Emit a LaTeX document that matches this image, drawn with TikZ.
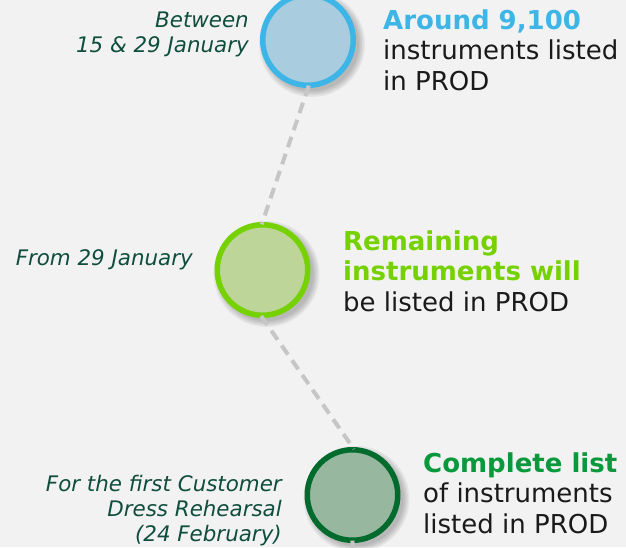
\documentclass[tikz,border=0pt]{standalone}
\usepackage{fontspec}
\setmainfont{DejaVu Sans}
\begin{document}
\begin{tikzpicture}[x=1pt,y=-1pt,
  stage/.style={circle, minimum size=90.5pt, inner sep=0pt, line width=5.5pt},
  link/.style={draw=linkgray, line width=4pt, dash pattern=on 11pt off 7pt},
  when/.style={font=\fontsize{21.4}{25}\selectfont\itshape, text=whencol, align=right, inner sep=0pt, anchor=base east},
  what/.style={font=\fontsize{26}{30.5}\selectfont, text=bodytext, align=left, inner sep=0pt, anchor=base west}]
\definecolor{bg}{HTML}{F2F2F2}
\definecolor{linkgray}{HTML}{C6C6C6}
\definecolor{whencol}{HTML}{0F4D3C}
\definecolor{bodytext}{HTML}{1A1A1A}
\definecolor{ringA}{HTML}{3DB6E7}
\definecolor{fillA}{HTML}{A9CCDF}
\definecolor{ringB}{HTML}{76D100}
\definecolor{fillB}{HTML}{BDD599}
\definecolor{ringC}{HTML}{006B2C}
\definecolor{fillC}{HTML}{97B79E}
\definecolor{headA}{HTML}{3DB6E7}
\definecolor{headB}{HTML}{76D100}
\definecolor{headC}{HTML}{07993B}

\fill[bg] (0,0) rectangle (626,547);
\useasboundingbox (0,0) rectangle (626,547);
\clip (0,0) rectangle (626,547);

% soft shadows under the stage circles
\foreach \cx/\cy in {308/40, 262.5/270, 352.5/495}{
  \foreach \r in {47,48.5,50,51.5,53}{
    \fill[black, opacity=0.05] (\cx+4,\cy+4) circle (\r);
  }
}

\node[stage, draw=ringA, fill=fillA] (s1) at (308,40) {};
\node[stage, draw=ringB, fill=fillB] (s2) at (262.5,270) {};
\node[stage, draw=ringC, fill=fillC] (s3) at (352.5,495) {};
\coordinate (tail) at (353,600);

\draw[link, shorten <=-2.5pt, shorten >=-2.5pt] (s1.south) -- (s2.north);
\draw[link, shorten <=-2.5pt, shorten >=-2.5pt] (s2.south) -- (s3.north);
\draw[link, shorten <=-2.5pt] (s3.south) -- (tail);

\node[when] (w1) at (249,52) {Between\\15 \& 29 January};
\node[when] (w2) at (193,265) {From 29 January};
\node[when] (w3) at (282,541) {For the first Customer\\Dress Rehearsal\\(24 February)};

\node[what] (t1) at (383,90) {\textcolor{headA}{\bfseries Around 9,100}\\instruments listed\\in PROD};
\node[what] (t2) at (343,311) {\textcolor{headB}{\bfseries Remaining}\\\textcolor{headB}{\bfseries instruments will}\\be listed in PROD};
\node[what] (t3) at (423,533) {\textcolor{headC}{\bfseries Complete list}\\of instruments\\listed in PROD};
\end{tikzpicture}
\end{document}
